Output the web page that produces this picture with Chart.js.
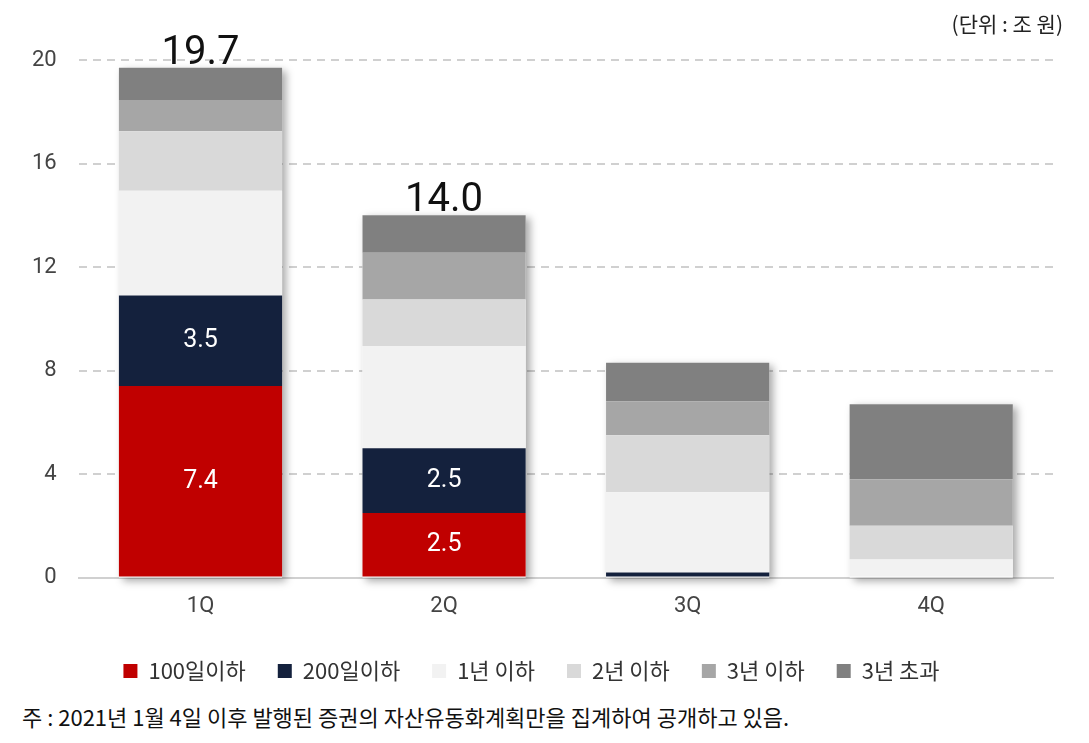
<!DOCTYPE html>
<html><head><meta charset="utf-8">
<script src="https://cdn.jsdelivr.net/npm/chart.js@4"></script>
<style>
body{margin:0;background:#fff;font-family:"Noto Sans CJK KR",sans-serif;}
#wrap{position:relative;width:1089px;height:743px;}
#unit{position:absolute;right:26px;top:8px;font-size:21px;color:#222;}
#note{position:absolute;left:22px;top:700px;font-size:22px;color:#111;}
</style></head><body>
<div id="wrap"><canvas id="c" width="1089" height="700"></canvas>
<div id="unit">(단위 : 조 원)</div>
<div id="note">주 : 2021년 1월 4일 이후 발행된 증권의 자산유동화계획만을 집계하여 공개하고 있음.</div></div>
<script>
const quarters = ['1Q', '2Q', '3Q', '4Q'];
const seriesNames = ['100일이하', '200일이하', '1년 이하', '2년 이하', '3년 이하', '3년 초과'];
const d100 = [7.4, 2.5, 0, 0];
const d200 = [3.5, 2.5, 0.2, 0];
const d1y = [4.05, 3.95, 3.1, 0.7];
const d2y = [2.3, 1.8, 2.2, 1.3];
const d3y = [1.2, 1.8, 1.3, 1.8];
const dOver = [1.25, 1.45, 1.5, 2.9];
const totalLabels = ['19.7', '14.0', '', ''];
const colors = ['#c00000', '#14213d', '#f2f2f2', '#d9d9d9', '#a6a6a6', '#808080'];
const seriesData = [d100, d200, d1y, d2y, d3y, dOver];

const extras = {
    id: 'extras',
    beforeDatasetsDraw(chart) {
        const ctx = chart.ctx, y = chart.scales.y;
        const meta = chart.getDatasetMeta(0);
        ctx.save();
        ctx.shadowColor = 'rgba(0,0,0,0.35)';
        ctx.shadowBlur = 8;
        ctx.shadowOffsetX = 4;
        ctx.shadowOffsetY = 3;
        ctx.fillStyle = '#fff';
        meta.data.forEach((bar, i) => {
            const tot = seriesData.reduce((s, a) => s + a[i], 0);
            const top = y.getPixelForValue(tot), bot = y.getPixelForValue(0);
            ctx.fillRect(bar.x - bar.width / 2, top, bar.width, bot - top);
        });
        ctx.restore();
    },
    afterDatasetsDraw(chart) {
        const ctx = chart.ctx, y = chart.scales.y;
        ctx.save();
        ctx.textAlign = 'center';
        ctx.textBaseline = 'middle';
        ctx.fillStyle = '#fff';
        ctx.font = '25px Roboto';
        [0, 1].forEach(di => {
            chart.getDatasetMeta(di).data.forEach((bar, i) => {
                const v = seriesData[di][i];
                if (v >= 1) ctx.fillText(v.toFixed(1), bar.x, (bar.y + bar.base) / 2);
            });
        });
        ctx.fillStyle = '#111';
        ctx.font = '40px Roboto';
        ctx.textBaseline = 'bottom';
        chart.getDatasetMeta(0).data.forEach((bar, i) => {
            const tot = seriesData.reduce((s, a) => s + a[i], 0);
            if (totalLabels[i]) ctx.fillText(totalLabels[i], bar.x, y.getPixelForValue(tot) + 6);
        });
        ctx.restore();
    }
};

new Chart(document.getElementById('c'), {
    type: 'bar',
    data: {
        labels: quarters,
        datasets: seriesNames.map((n, i) => ({
            label: n, data: seriesData[i], backgroundColor: colors[i],
            barPercentage: 0.67, categoryPercentage: 1
        }))
    },
    options: {
        responsive: false,
        animation: false,
        layout: { padding: { top: 60, right: 36, left: 10, bottom: 8 } },
        plugins: {
            tooltip: { enabled: false },
            legend: {
                position: 'bottom',
                labels: { color: '#333', font: { size: 22, family: 'Noto Sans CJK KR' }, boxWidth: 14, boxHeight: 14, padding: 32 }
            }
        },
        scales: {
            x: {
                stacked: true,
                grid: { display: false },
                border: { color: '#d0d0d0', width: 2 },
                ticks: { color: '#444', font: { size: 22, family: 'Roboto' }, padding: 8 }
            },
            y: {
                stacked: true, min: 0, max: 20,
                ticks: { stepSize: 4, color: '#444', font: { size: 22, family: 'Roboto' }, padding: 22 },
                grid: { color: '#d0d0d0', lineWidth: 2, drawTicks: false },
                border: { display: false, dash: [8, 6] }
            }
        }
    },
    plugins: [extras]
});
</script></body></html>
